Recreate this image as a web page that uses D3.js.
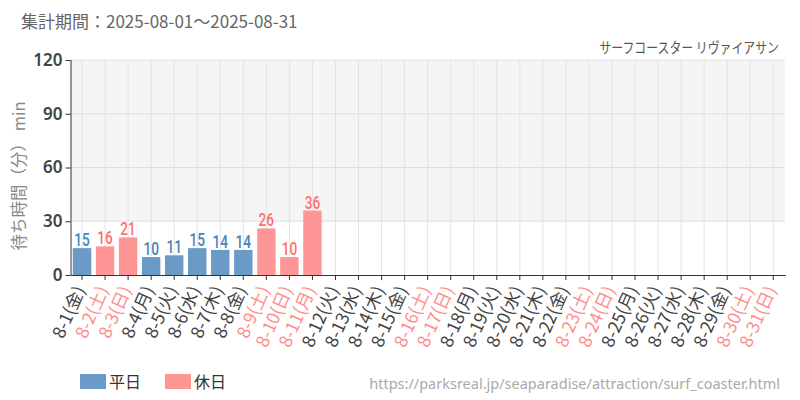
<!DOCTYPE html>
<html><head><meta charset="utf-8">
<script src="https://cdn.jsdelivr.net/npm/d3@7"></script>
<style>body{margin:0;background:#fff}svg{display:block}</style>
</head><body><svg id="c" width="800" height="400"></svg>
<script>
const days = ["8-1","8-2","8-3","8-4","8-5","8-6","8-7","8-8","8-9","8-10","8-11","8-12","8-13","8-14","8-15","8-16","8-17","8-18","8-19","8-20","8-21","8-22","8-23","8-24","8-25","8-26","8-27","8-28","8-29","8-30","8-31"];
const weekdays = ["金","土","日","月","火","水","木","金","土","日","月","火","水","木","金","土","日","月","火","水","木","金","土","日","月","火","水","木","金","土","日"];
const holiday = [0,1,1,0,0,0,0,0,1,1,1,0,0,0,0,1,1,0,0,0,0,0,1,1,0,0,0,0,0,1,1];
const waits = [15,16,21,10,11,15,14,14,26,10,36,null,null,null,null,null,null,null,null,null,null,null,null,null,null,null,null,null,null,null,null];
const yTicks = [0,30,60,90,120];
const title = "集計期間：2025-08-01～2025-08-31";
const subtitle = "サーフコースター リヴァイアサン";
const yLabel = "待ち時間（分） min";
const legendItems = ["平日","休日"];
const source = "https://parksreal.jp/seaparadise/attraction/surf_coaster.html";

const C = {wk:"#6a9bc6", hol:"#ff9696", wkText:"#4a84bb", holText:"#ff7070", holLabel:"#ff8c8c"};
const font = "'Noto Sans CJK JP','Noto Sans',sans-serif";
const svg = d3.select("#c");
const L = 70.5, R = 784.8, T = 60, B = 275;
const x = d3.scaleBand().domain(days).range([L,R]).paddingInner(0.2).paddingOuter(0.1);
const y = d3.scaleLinear().domain([0,120]).range([B,T]);

// background band 30-120
svg.append("rect").attr("x",L).attr("y",y(120)).attr("width",R-L).attr("height",y(30)-y(120)).attr("fill","#f5f5f5");
// vertical grid
svg.append("g").selectAll("line").data(days).join("line")
  .attr("x1",d=>x(d)+x.bandwidth()/2).attr("x2",d=>x(d)+x.bandwidth()/2)
  .attr("y1",T).attr("y2",B).attr("stroke","#e4e4e4").attr("stroke-width",1);
// horizontal grid
svg.append("g").selectAll("line").data(yTicks.slice(1)).join("line")
  .attr("x1",L).attr("x2",R).attr("y1",d=>y(d)).attr("y2",d=>y(d))
  .attr("stroke","#e0e0e0").attr("stroke-width",1);

// bars
const data = days.map((d,i)=>({d,w:weekdays[i],h:holiday[i],v:waits[i]}));
svg.append("g").selectAll("rect").data(data.filter(e=>e.v!=null)).join("rect")
  .attr("x",e=>x(e.d)).attr("width",x.bandwidth())
  .attr("y",e=>y(e.v)).attr("height",e=>y(0)-y(e.v))
  .attr("fill",e=>e.h?C.hol:C.wk);
// value labels
svg.append("g").selectAll("text").data(data.filter(e=>e.v!=null)).join("text")
  .attr("transform",e=>`translate(${x(e.d)+x.bandwidth()/2},${y(e.v)-2}) scale(0.78,1)`)
  .attr("text-anchor","middle").attr("font-family","'Roboto','Liberation Sans',sans-serif")
  .attr("font-size",17.5).attr("font-weight",500)
  .attr("fill",e=>e.h?C.holText:C.wkText).text(e=>e.v);

// axes
const xa = svg.append("g").attr("transform",`translate(0,${B})`)
  .call(d3.axisBottom(x).tickSize(5).tickFormat((d,i)=>`${d}(${weekdays[i]})`));
xa.select(".domain").attr("stroke","#333").attr("d",`M${L},0.5H${R+1}`);
xa.selectAll(".tick line").attr("stroke","#333");
xa.selectAll(".tick text")
  .attr("font-family",font).attr("font-size",17.5)
  .attr("fill",(d,i)=>holiday[i]?C.holLabel:"#444")
  .attr("text-anchor","end").attr("dx",0).attr("dy","0.35em")
  .attr("transform","translate(-2,12) rotate(-66)").attr("x",0).attr("y",0);

const ya = svg.append("g").attr("transform",`translate(${L},0)`)
  .call(d3.axisLeft(y).tickValues(yTicks).tickSize(5));
ya.select(".domain").attr("stroke","#333").attr("d",`M0.5,${T}V${B}`);
ya.selectAll(".tick line").attr("stroke","#333");
ya.selectAll(".tick text").attr("font-family","'Noto Sans',sans-serif").attr("font-size",17)
  .attr("font-weight",600).attr("fill","#444").attr("x",-8);

// titles
svg.append("text").attr("x",21).attr("y",28).attr("font-family",font).attr("font-size",17)
  .attr("fill","#666").text(title);
svg.append("text").attr("transform","translate(779,53) scale(0.82,1)").attr("text-anchor","end")
  .attr("font-family",font).attr("font-size",14.5).attr("fill","#555").text(subtitle);
svg.append("text").attr("transform","translate(25,176) rotate(-90)").attr("text-anchor","middle")
  .attr("font-family",font).attr("font-size",16.5).attr("fill","#888").text(yLabel);

// legend
const lg = svg.append("g").selectAll("g").data(legendItems).join("g")
  .attr("transform",(d,i)=>`translate(${80+i*85},374)`);
lg.append("rect").attr("width",26).attr("height",15).attr("fill",(d,i)=>i?C.hol:C.wk);
lg.append("text").attr("x",29).attr("y",14).attr("font-family",font).attr("font-size",16)
  .attr("fill","#333").text(d=>d);
svg.append("text").attr("x",780).attr("y",389).attr("text-anchor","end")
  .attr("font-family","'Noto Sans',sans-serif").attr("font-size",14.5).attr("fill","#aaa").text(source);
</script></body></html>
